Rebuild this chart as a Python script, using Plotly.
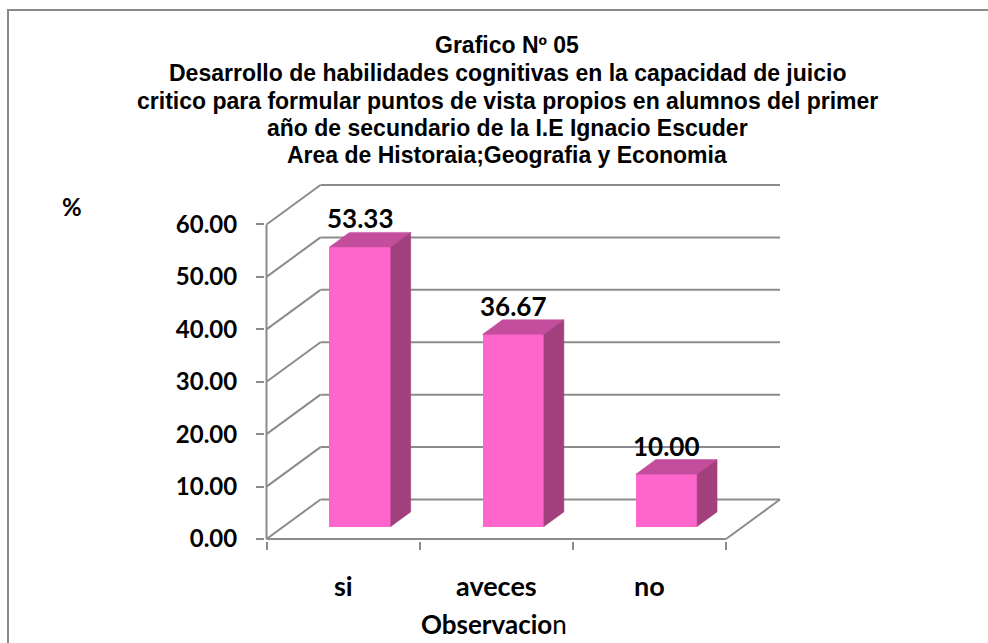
import plotly.graph_objects as go

# ---------------- data ----------------
categories = ["si", "aveces", "no"]
values = [53.33, 36.67, 10.00]
value_labels = ["53.33", "36.67", "10.00"]
ytick_vals = [0, 10, 20, 30, 40, 50, 60]
ytick_text = ["0.00", "10.00", "20.00", "30.00", "40.00", "50.00", "60.00"]
title_lines = [
    "Grafico Nº 05",
    "Desarrollo de habilidades cognitivas en la capacidad de juicio",
    "critico para formular puntos de vista propios en alumnos del primer",
    "año de secundario de la I.E Ignacio Escuder",
    "Area de Historaia;Geografia y Economia",
]
x_title = "<b>Observacio</b>n"
y_title = "<b>%</b>"

# ---------------- layout geometry (pixels) ----------------
W, H = 988, 643
L, R, T, B = 265, 205, 182, 102
X0 = 266.5          # pixel of x = -0.5 (front-left corner)
PXU = 153.17        # pixels per category unit
Y0 = 539.0          # pixel of y = 0 (front floor)
PYU = 5.242         # pixels per value unit
DX = 54 / PXU       # depth offset in x units
DY = 39.5 / PYU     # depth offset in y units
D0, D1 = 0.315, 0.685   # bar depth start / end (fraction of floor depth)
BAR_W = 0.4

x_range = [-0.5 - (X0 - L) / PXU, -0.5 + (W - R - X0) / PXU]
y_range = [-(H - B - Y0) / PYU, (Y0 - T) / PYU]

PW = W - L - R
PH = H - T - B


def px_x(px):
    return (px - L) / PW


def px_y(py):
    return (H - B - py) / PH


GRID = "#8c8c8c"
FRONT = "#ff66cc"
TOP = "#c44d9e"
SIDE = "#a2407e"
LBL_FONT = "Lato"

n = len(categories)
x_left = -0.5
x_right = n - 0.5
ymax = max(ytick_vals)

fig = go.Figure()

# ---------------- walls / gridlines (below traces) ----------------
shapes = []


def seg(x0, y0, x1, y1):
    shapes.append(dict(type="line", xref="x", yref="y", x0=x0, y0=y0, x1=x1, y1=y1,
                       line=dict(color=GRID, width=2), layer="below"))


for v in ytick_vals:
    seg(x_left, v, x_left + DX, v + DY)                 # left wall diagonal
    seg(x_left + DX, v + DY, x_right + DX, v + DY)      # back wall line
seg(x_left, 0, x_right, 0)                              # floor front edge
seg(x_right, 0, x_right + DX, DY)                       # floor right edge
seg(x_left, 0, x_left, ymax)                            # front value axis

# border of the chart area
shapes.append(dict(type="rect", xref="paper", yref="paper",
                   x0=px_x(8), y0=px_y(10), x1=px_x(1000), y1=px_y(660),
                   line=dict(color="#8a8a8a", width=2), fillcolor="rgba(0,0,0,0)",
                   layer="below"))

# ---------------- bars ----------------
bx = [i + D0 * DX for i in range(n)]
fig.add_trace(go.Bar(x=bx, y=values, base=D0 * DY, width=BAR_W,
                     marker=dict(color=FRONT, line=dict(width=0)),
                     hoverinfo="skip", showlegend=False))

w = (D1 - D0) * DX
b0 = D0 * DY
b1 = D1 * DY
for i, v in enumerate(values):
    xl = bx[i] - BAR_W / 2
    xr = bx[i] + BAR_W / 2
    # top face
    fig.add_trace(go.Scatter(
        x=[xl, xr, xr + w, xl + w, xl],
        y=[v + b0, v + b0, v + b1, v + b1, v + b0],
        fill="toself", fillcolor=TOP, mode="lines",
        line=dict(color=TOP, width=0.5), hoverinfo="skip", showlegend=False))
    # side face
    fig.add_trace(go.Scatter(
        x=[xr, xr, xr + w, xr + w, xr],
        y=[b0, v + b0, v + b1, b1, b0],
        fill="toself", fillcolor=SIDE, mode="lines",
        line=dict(color=SIDE, width=0.5), hoverinfo="skip", showlegend=False))

# ---------------- annotations ----------------
ann = []
for i, v in enumerate(values):
    ann.append(dict(x=bx[i], y=v + b1, xref="x", yref="y", text=value_labels[i],
                    showarrow=False, yanchor="middle", xanchor="center", yshift=14,
                    font=dict(family=LBL_FONT, size=26, color="black", weight="bold")))
for i, c in enumerate(categories):
    ann.append(dict(x=i, y=0, xref="x", yref="y", text=c, showarrow=False,
                    yanchor="middle", xanchor="center", yshift=-(585 - Y0),
                    font=dict(family=LBL_FONT, size=27, color="black", weight="bold")))
ann.append(dict(x=px_x(494), y=px_y(624), xref="paper", yref="paper", text=x_title,
                showarrow=False, xanchor="center", yanchor="middle",
                font=dict(family=LBL_FONT, size=26, color="black")))
ann.append(dict(x=px_x(72), y=px_y(206), xref="paper", yref="paper", text=y_title,
                showarrow=False, xanchor="center", yanchor="middle",
                font=dict(family=LBL_FONT, size=24, color="black")))
title_y = [45, 73, 101, 128, 155]
for t, py in zip(title_lines, title_y):
    ann.append(dict(x=px_x(507), y=px_y(py), xref="paper", yref="paper", text=t,
                    showarrow=False, xanchor="center", yanchor="middle",
                    font=dict(family="Liberation Sans", size=23, color="black",
                              weight="bold")))

fig.update_layout(
    width=W, height=H,
    margin=dict(l=L, r=R, t=T, b=B, autoexpand=False),
    paper_bgcolor="white", plot_bgcolor="rgba(0,0,0,0)",
    showlegend=False,
    shapes=shapes,
    annotations=ann,
    bargap=0,
    xaxis=dict(range=x_range, tickmode="array",
               tickvals=[i - 0.5 for i in range(n + 1)],
               ticktext=["" for _ in range(n + 1)],
               ticks="outside", ticklen=8, tickwidth=2, tickcolor=GRID,
               showgrid=False, zeroline=False, showline=False,
               fixedrange=True, automargin=False),
    yaxis=dict(range=y_range, tickmode="array", tickvals=ytick_vals, ticktext=ytick_text,
               ticks="outside", ticklen=8, tickwidth=2, tickcolor=GRID,
               ticklabelstandoff=14,
               tickfont=dict(family=LBL_FONT, size=24, color="black", weight="bold"),
               showgrid=False, zeroline=False, showline=False,
               fixedrange=True, automargin=False),
)

fig.write_html("out.html",
               config={"displayModeBar": False, "staticPlot": True},
               post_script="document.body.style.margin='0';document.body.style.overflow='hidden';")
